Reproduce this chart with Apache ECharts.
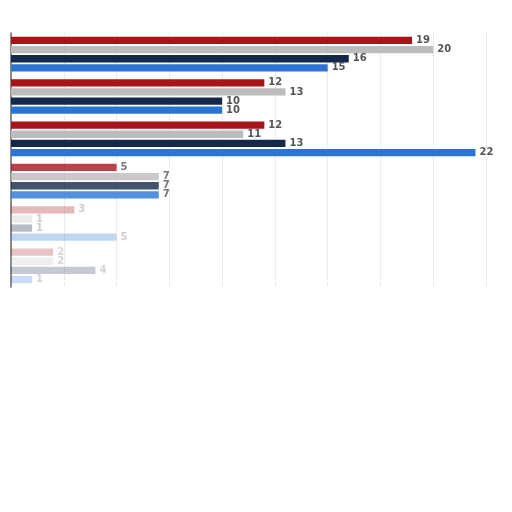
<!DOCTYPE html>
<html>
<head>
<meta charset="utf-8">
<script src="https://cdn.jsdelivr.net/npm/echarts@6/dist/echarts.min.js"></script>
<style>
  html, body { margin: 0; padding: 0; background: #fff; }
  #chart { width: 512px; height: 512px; }
</style>
</head>
<body>
<div id="chart"></div>
<script>
// categories (no labels shown in the picture)
const categories = ['A', 'B', 'C', 'D', 'E', 'F']
const redValues = [19, 12, 12, 5, 3, 2]
const grayValues = [20, 13, 11, 7, 1, 2]
const navyValues = [16, 10, 13, 7, 1, 4]
const blueValues = [15, 10, 22, 7, 5, 1]

// lower rows are washed out in the picture
const fade = [1, 1, 1, 0.8, 0.3, 0.25]

const chart = echarts.init(document.getElementById('chart'))

function makeSeries(name, color, values) {
  return {
    name: name,
    type: 'bar',
    barGap: '25%',
    barCategoryGap: '18%',
    itemStyle: { color: color },
    label: {
      show: true,
      position: 'right',
      distance: 4,
      fontFamily: 'DejaVu Sans',
      fontSize: 10,
      fontWeight: 'bold',
      color: '#555'
    },
    data: values.map(function (v, i) {
      return {
        value: v,
        itemStyle: { opacity: fade[i] },
        label: { opacity: fade[i] }
      }
    })
  }
}

const options = {
  animation: false,
  grid: { left: 11, right: 26, top: 33, bottom: 225 },
  xAxis: {
    type: 'value',
    min: 0,
    max: 22.5,
    interval: 2.5,
    axisLabel: { show: false },
    axisLine: { show: false },
    axisTick: { show: false },
    splitLine: { show: true, lineStyle: { color: '#d8d8d8', type: 'dotted' } }
  },
  yAxis: {
    type: 'category',
    inverse: true,
    data: categories,
    axisLabel: { show: false },
    axisTick: { show: false },
    axisLine: { show: true, lineStyle: { color: '#666', width: 1.5 } }
  },
  series: [
    makeSeries('red', '#a8141a', redValues),
    makeSeries('gray', '#bcbcbc', grayValues),
    makeSeries('navy', '#13284a', navyValues),
    makeSeries('blue', '#2b74d4', blueValues)
  ]
}

chart.setOption(options)
window.addEventListener('resize', chart.resize)
</script>
</body>
</html>
